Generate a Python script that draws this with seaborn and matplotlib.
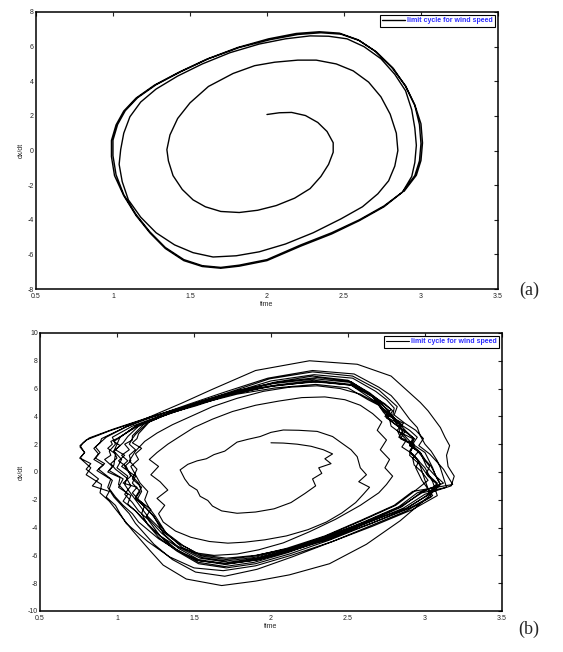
import pandas as pd
import matplotlib
matplotlib.use("Agg")
import matplotlib.pyplot as plt
import seaborn as sns

# ---------- shared axis ticks ----------
x_ticks = [0.5, 1.0, 1.5, 2.0, 2.5, 3.0, 3.5]
x_tick_labels = ["0.5", "1", "1.5", "2", "2.5", "3", "3.5"]
y_ticks_a = [-8, -6, -4, -2, 0, 2, 4, 6, 8]
y_ticks_b = [-10, -8, -6, -4, -2, 0, 2, 4, 6, 8, 10]
legend_label = "limit cycle for wind speed"

# ---------- (a) smooth spiral onto the limit cycle ----------
a_time = [
    2.00, 2.08, 2.16, 2.25, 2.33, 2.39, 2.43, 2.43, 2.40, 2.35,
    2.28, 2.18, 2.06, 1.94, 1.82, 1.70, 1.60, 1.52, 1.45, 1.39,
    1.36, 1.35, 1.37, 1.42, 1.50, 1.62, 1.78, 1.92, 2.05, 2.20,
    2.32, 2.45, 2.56, 2.66, 2.74, 2.80, 2.84, 2.85, 2.83, 2.79,
    2.72, 2.62, 2.48, 2.30, 2.12, 1.95, 1.80, 1.65, 1.52, 1.40,
    1.28, 1.18, 1.10, 1.06, 1.04, 1.05, 1.07, 1.11, 1.18, 1.28,
    1.42, 1.58, 1.76, 1.95, 2.12, 2.28, 2.40, 2.52, 2.63, 2.74,
    2.83, 2.90, 2.94, 2.96, 2.97, 2.96, 2.94, 2.88, 2.76, 2.60,
    2.42, 2.22, 2.00, 1.82, 1.70, 1.58, 1.46, 1.34, 1.24, 1.15,
    1.07, 1.02, 1.00, 1.00, 1.03, 1.08, 1.16, 1.28, 1.44, 1.62,
    1.82, 2.02, 2.20, 2.35, 2.48, 2.60, 2.71, 2.82, 2.90, 2.96,
    2.99, 3.00, 2.99, 2.96, 2.88, 2.76, 2.60, 2.42, 2.22, 2.00,
    1.82, 1.70, 1.58, 1.46, 1.34, 1.24, 1.15, 1.07, 1.01, 0.99,
    0.99, 1.02, 1.07, 1.15, 1.27, 1.43, 1.61, 1.81, 2.01, 2.19,
    2.34, 2.47, 2.59, 2.70, 2.81, 2.90, 2.96, 3.00, 3.01, 3.00,
    2.97, 2.89,
]
a_dxdt = [
    2.08, 2.18, 2.20, 2.02, 1.62, 1.10, 0.45, -0.10, -0.80, -1.50,
    -2.20, -2.75, -3.18, -3.45, -3.58, -3.52, -3.25, -2.85, -2.25, -1.45,
    -0.60, 0.05, 0.90, 1.85, 2.75, 3.70, 4.45, 4.90, 5.10, 5.22,
    5.22, 5.00, 4.60, 3.95, 3.10, 2.10, 1.00, 0.00, -0.90, -1.75,
    -2.50, -3.25, -3.95, -4.75, -5.40, -5.85, -6.08, -6.15, -5.90, -5.45,
    -4.75, -3.85, -2.85, -1.80, -0.80, 0.05, 1.00, 1.95, 2.80, 3.55,
    4.30, 5.00, 5.65, 6.15, 6.45, 6.62, 6.60, 6.45, 6.00, 5.30,
    4.40, 3.45, 2.35, 1.30, 0.30, -0.70, -1.50, -2.40, -3.20, -4.00,
    -4.75, -5.45, -6.30, -6.62, -6.75, -6.65, -6.30, -5.60, -4.70, -3.70,
    -2.55, -1.40, -0.30, 0.60, 1.50, 2.30, 3.05, 3.80, 4.55, 5.30,
    5.95, 6.40, 6.70, 6.80, 6.72, 6.35, 5.70, 4.75, 3.70, 2.60,
    1.50, 0.40, -0.60, -1.45, -2.40, -3.25, -4.05, -4.82, -5.52, -6.36,
    -6.68, -6.80, -6.70, -6.36, -5.66, -4.76, -3.76, -2.61, -1.45, -0.35,
    0.58, 1.48, 2.28, 3.03, 3.78, 4.53, 5.28, 5.95, 6.45, 6.76,
    6.86, 6.78, 6.40, 5.75, 4.80, 3.74, 2.64, 1.54, 0.44, -0.58,
    -1.43, -2.36,
]

# ---------- (b) noisy trajectory, loop by loop ----------
b_time_1 = [2.00, 2.08, 2.17, 2.26, 2.34, 2.40, 2.35, 2.39, 2.31, 2.33, 2.27, 2.29, 2.22, 2.13,
            2.02, 1.90, 1.78, 1.68, 1.62, 1.59, 1.54, 1.52, 1.47, 1.44, 1.41, 1.46, 1.52, 1.58,
            1.63, 1.70, 1.78, 1.85, 1.93, 2.00, 2.08, 2.18, 2.30, 2.40, 2.47, 2.52, 2.56, 2.58]
b_dxdt_1 = [2.10, 2.08, 2.00, 1.85, 1.60, 1.30, 0.95, 0.60, 0.30, -0.10, -0.50, -1.00, -1.55, -2.20,
            -2.65, -2.88, -2.97, -2.80, -2.45, -2.05, -1.75, -1.30, -0.95, -0.50, 0.15, 0.55, 0.80, 0.95,
            1.25, 1.50, 2.15, 2.35, 2.55, 2.85, 3.02, 3.00, 2.92, 2.55, 2.00, 1.60, 1.10, 0.30]

b_time_2 = [2.62, 2.57, 2.64, 2.60, 2.55, 2.46, 2.36, 2.24, 2.10, 1.96, 1.83, 1.72, 1.60, 1.48,
            1.38, 1.30, 1.27, 1.31, 1.26, 1.33, 1.28, 1.22, 1.27, 1.21, 1.26, 1.33, 1.40, 1.50,
            1.62, 1.75, 1.90, 2.05, 2.20, 2.35, 2.48, 2.58, 2.66, 2.72, 2.69, 2.75, 2.71, 2.77]
b_dxdt_2 = [-0.20, -0.70, -1.10, -1.60, -2.20, -2.95, -3.60, -4.15, -4.60, -4.88, -5.05, -5.12, -5.00, -4.70,
            -4.25, -3.60, -3.00, -2.40, -1.90, -1.30, -0.70, -0.20, 0.40, 0.90, 1.40, 2.00, 2.50, 3.20,
            3.80, 4.35, 4.80, 5.10, 5.35, 5.40, 5.20, 4.80, 4.20, 3.60, 3.00, 2.30, 1.60, 0.90]

b_time_3 = [2.74, 2.79, 2.75, 2.70, 2.58, 2.42, 2.25, 2.08, 1.92, 1.78, 1.63, 1.50, 1.38, 1.28,
            1.20, 1.16, 1.18, 1.12, 1.16, 1.10, 1.13, 1.08, 1.12, 1.18, 1.26, 1.36, 1.48, 1.62,
            1.78, 1.95, 2.12, 2.30, 2.45, 2.58, 2.68, 2.76, 2.83, 2.86, 2.92, 2.90, 2.97, 3.02, 3.08]
b_dxdt_3 = [0.30, -0.30, -0.90, -1.50, -2.40, -3.40, -4.30, -5.10, -5.60, -5.90, -6.00, -5.80, -5.30, -4.60,
            -3.80, -3.00, -2.40, -1.80, -1.10, -0.50, 0.20, 0.80, 1.50, 2.20, 2.80, 3.40, 4.00, 4.70,
            5.30, 5.80, 6.10, 6.20, 6.00, 5.60, 5.00, 4.30, 3.50, 2.70, 2.00, 1.20, 0.50, -0.30, -0.90]

b_time_4 = [3.03, 2.88, 2.61, 2.39, 2.12, 1.90, 1.70, 1.52, 1.37, 1.27,
            1.16, 1.12, 1.04, 1.07, 1.01, 1.02, 0.94, 0.97, 0.92, 0.96, 0.95, 0.99, 0.97,
            1.10, 1.27, 1.51, 1.73, 2.00, 2.28, 2.52, 2.67,
            2.74, 2.79, 2.76, 2.84, 2.88, 2.93, 2.90, 2.97, 3.01, 3.06, 3.12]
b_dxdt_4 = [-1.60, -2.60, -3.70, -4.80, -5.70, -6.35, -6.65, -6.35, -5.50, -4.50,
            -3.30, -2.80, -2.10, -1.60, -0.90, -0.40, 0.00, 0.40, 0.90, 1.20, 1.50, 2.00, 2.50,
            3.30, 4.00, 4.75, 5.55, 6.20, 6.60, 6.30, 5.40,
            4.90, 4.40, 3.90, 3.40, 2.90, 2.40, 1.90, 1.40, 0.40, -0.20, -0.80]

b_time_5 = [2.97, 2.85, 2.63, 2.37, 2.13, 1.91, 1.72, 1.54, 1.40, 1.29,
            1.19, 1.22, 1.14, 1.10, 1.13, 1.04, 1.09, 1.06, 1.01, 1.05, 0.99, 1.04, 1.07,
            1.15, 1.31, 1.52, 1.76, 2.02, 2.27, 2.50, 2.64,
            2.72, 2.78, 2.74, 2.80, 2.86, 2.83, 2.93, 2.90, 2.95, 3.00, 3.05]
b_dxdt_5 = [-1.50, -2.50, -3.60, -4.70, -5.60, -6.20, -6.50, -6.20, -5.40, -4.40,
            -3.20, -2.70, -2.00, -1.50, -1.10, -0.80, -0.30, 0.40, 0.80, 1.20, 1.60, 2.10, 2.55,
            3.40, 4.10, 4.90, 5.70, 6.45, 6.90, 6.60, 5.70,
            5.00, 4.50, 4.00, 3.50, 3.00, 2.50, 2.00, 1.50, 0.90, 0.30, -0.70]

b_time_6 = [3.08, 2.92, 2.66, 2.40, 2.13, 1.90, 1.69, 1.50, 1.34, 1.20,
            1.06, 1.02, 0.99, 0.93, 0.95, 0.84, 0.88, 0.80, 0.83, 0.76, 0.79, 0.76, 0.82,
            0.98, 1.20, 1.47, 1.72, 1.99, 2.27, 2.53, 2.70,
            2.76, 2.82, 2.80, 2.87, 2.94, 2.99, 2.96, 3.03, 3.08, 3.12, 3.18]
b_dxdt_6 = [-1.70, -2.70, -3.90, -5.00, -6.00, -6.75, -7.10, -6.90, -6.10, -5.00,
            -3.70, -3.00, -2.40, -1.80, -1.40, -1.00, -0.50, 0.20, 0.60, 1.00, 1.40, 1.90, 2.45,
            3.10, 3.90, 4.80, 5.70, 6.70, 7.20, 6.90, 5.90,
            5.30, 4.70, 4.10, 3.50, 3.00, 2.40, 1.90, 1.30, 0.70, 0.20, -0.90]

b_time_7 = [2.92, 2.80, 2.58, 2.35, 2.10, 1.89, 1.71, 1.55, 1.43, 1.31,
            1.23, 1.18, 1.12, 1.15, 1.10, 1.12, 1.03, 1.07, 1.03, 1.08, 1.05, 1.10, 1.10,
            1.18, 1.33, 1.55, 1.78, 2.03, 2.29, 2.50, 2.63,
            2.70, 2.73, 2.77, 2.78, 2.84, 2.88, 2.85, 2.92, 2.96, 2.94, 2.98]
b_dxdt_7 = [-1.40, -2.40, -3.50, -4.60, -5.50, -6.05, -6.30, -6.05, -5.30, -4.30,
            -3.10, -2.50, -1.90, -1.40, -0.80, -0.30, 0.40, 0.80, 1.20, 1.60, 2.00, 2.30, 2.60,
            3.50, 4.20, 4.95, 5.60, 6.05, 6.30, 6.05, 5.20,
            4.80, 4.30, 3.80, 3.30, 2.80, 2.30, 1.80, 1.30, 0.80, 0.30, -0.60]

b_time_8 = [3.05, 2.90, 2.65, 2.40, 2.15, 1.92, 1.72, 1.54, 1.40, 1.27,
            1.14, 1.10, 1.04, 0.99, 0.95, 0.97, 0.87, 0.91, 0.85, 0.88, 0.85, 0.89, 0.90,
            1.05, 1.22, 1.42, 1.62, 1.90, 2.25, 2.56, 2.78,
            2.90, 2.97, 3.02, 3.06, 3.10, 3.13, 3.16, 3.14, 3.15, 3.19, 3.17]
b_dxdt_8 = [-1.70, -2.60, -3.70, -4.70, -5.60, -6.30, -6.60, -6.40, -5.70, -4.80,
            -3.60, -3.00, -2.40, -1.80, -1.20, -0.60, 0.10, 0.50, 0.90, 1.30, 1.70, 2.10, 2.40,
            3.20, 4.00, 4.95, 5.95, 7.30, 8.00, 7.75, 6.90,
            5.70, 5.00, 4.40, 3.80, 3.20, 2.50, 1.90, 1.20, 0.40, -0.30, -1.00]

b_time_9 = [3.00, 2.86, 2.62, 2.36, 2.11, 1.89, 1.70, 1.53, 1.39, 1.28,
            1.20, 1.14, 1.10, 1.05, 1.09, 1.06, 0.99, 0.96, 1.00, 0.98, 1.02, 0.98, 1.02,
            1.13, 1.30, 1.50, 1.75, 2.01, 2.29, 2.51, 2.65,
            2.71, 2.77, 2.75, 2.81, 2.87, 2.93, 2.91, 2.96, 3.03, 3.01, 3.08]
b_dxdt_9 = [-1.60, -2.60, -3.70, -4.80, -5.80, -6.50, -6.80, -6.50, -5.60, -4.60,
            -3.40, -2.80, -2.20, -1.60, -1.00, -0.40, 0.20, 0.60, 1.00, 1.50, 1.90, 2.20, 2.50,
            3.35, 4.05, 4.80, 5.65, 6.35, 6.70, 6.45, 5.50,
            4.90, 4.40, 3.90, 3.40, 2.90, 2.40, 1.90, 1.40, 0.40, -0.10, -0.80]

b_time_10 = [3.01, 2.87, 2.63, 2.38, 2.12, 1.90, 1.71, 1.53, 1.39, 1.27,
             1.18, 1.13, 1.07, 1.09, 1.01, 1.04, 0.95, 0.98, 0.99, 0.94, 0.97, 0.96, 1.00,
             1.12, 1.28, 1.49, 1.73, 2.00, 2.28, 2.53, 2.68,
             2.75, 2.80, 2.79, 2.83, 2.90, 2.95, 2.92, 3.00, 3.05, 3.07, 3.10]
b_dxdt_10 = [-1.70, -2.70, -3.80, -4.90, -5.90, -6.60, -6.90, -6.60, -5.70, -4.70,
             -3.50, -2.90, -2.30, -1.70, -1.10, -0.50, 0.10, 0.50, 1.30, 1.70, 2.00, 2.20, 2.40,
             3.20, 3.95, 4.75, 5.65, 6.55, 7.00, 6.75, 5.80,
             5.20, 4.60, 4.00, 3.50, 3.00, 2.50, 2.00, 1.40, 0.30, -0.30, -0.90]

b_time_11 = [3.02, 2.84, 2.62, 2.38, 2.12, 1.90, 1.68, 1.45, 1.30, 1.21,
             1.10, 1.05, 1.00, 0.95, 0.89, 0.90, 0.80, 0.83, 0.76, 0.79, 0.76, 0.78, 0.80,
             0.95, 1.18, 1.45, 1.72, 2.00, 2.27, 2.52, 2.66,
             2.72, 2.76, 2.80, 2.85, 2.83, 2.92, 2.90, 2.97, 3.00, 3.04, 3.10]
b_dxdt_11 = [-1.80, -3.50, -5.20, -6.60, -7.40, -7.85, -8.17, -7.70, -6.70, -5.60,
             -4.20, -3.50, -2.80, -2.10, -1.50, -0.90, -0.20, 0.30, 1.00, 1.40, 1.80, 2.10, 2.30,
             2.95, 3.80, 4.70, 5.55, 6.15, 6.50, 6.25, 5.40,
             4.90, 4.40, 3.90, 3.40, 2.90, 2.40, 1.90, 1.40, 0.90, 0.40, -0.90]

b_time_12 = [2.95, 2.83, 2.60, 2.36, 2.10, 1.88, 1.70, 1.53, 1.40, 1.30,
             1.24, 1.19, 1.13, 1.16, 1.14, 1.09, 1.05, 1.09, 1.08, 1.12, 1.08, 1.10, 1.12,
             1.20, 1.34, 1.54, 1.78, 2.04, 2.30, 2.52, 2.65,
             2.72, 2.77, 2.86, 2.82, 2.84, 2.91, 2.96, 2.92, 2.93, 2.98, 3.02]
b_dxdt_12 = [-1.50, -2.50, -3.60, -4.70, -5.65, -6.30, -6.60, -6.30, -5.50, -4.40,
             -3.20, -2.60, -2.00, -1.40, -0.80, -0.20, 0.40, 0.80, 1.20, 1.60, 2.00, 2.40, 2.70,
             3.55, 4.25, 5.05, 5.85, 6.45, 6.80, 6.50, 5.55,
             4.50, 4.00, 3.50, 3.00, 2.50, 2.00, 1.50, 1.00, 0.50, 0.00, -0.60]

b_time_13 = [2.93, 2.81, 2.59, 2.36, 2.11, 1.89, 1.71, 1.55, 1.42, 1.32,
             1.25, 1.21, 1.18, 1.20, 1.15, 1.12, 1.09, 1.14, 1.12, 1.16, 1.10, 1.13, 1.14,
             1.21, 1.36, 1.57, 1.80, 2.05, 2.31, 2.52, 2.64,
             2.70, 2.74, 2.79, 2.82, 2.87, 2.84, 2.93, 2.90, 2.95, 2.97, 3.00]
b_dxdt_13 = [-1.40, -2.40, -3.50, -4.60, -5.55, -6.15, -6.40, -6.15, -5.40, -4.40,
             -3.20, -2.60, -2.00, -1.40, -0.80, -0.20, 0.40, 0.90, 1.30, 1.70, 2.10, 2.40, 2.75,
             3.60, 4.30, 5.10, 5.80, 6.25, 6.50, 6.25, 5.35,
             4.90, 4.40, 3.90, 3.40, 2.90, 2.40, 1.90, 1.40, 0.90, 0.40, -0.60]

b_time_14 = [3.04, 2.88, 2.64, 2.40, 2.14, 1.91, 1.70, 1.51, 1.36, 1.24,
             1.12, 1.08, 1.03, 0.98, 0.94, 0.96, 0.88, 0.92, 0.86, 0.89, 0.86, 0.90, 0.93,
             1.06, 1.24, 1.46, 1.70, 1.98, 2.27, 2.54, 2.70,
             2.78, 2.82, 2.86, 2.90, 2.95, 2.97, 3.00, 3.04, 3.08, 3.10, 3.14]
b_dxdt_14 = [-1.80, -2.80, -3.90, -5.00, -6.10, -7.00, -7.50, -7.20, -6.30, -5.20,
             -3.70, -3.00, -2.40, -1.80, -1.10, -0.50, 0.20, 0.60, 1.00, 1.40, 1.80, 2.20, 2.50,
             3.25, 4.00, 4.85, 5.75, 6.75, 7.30, 7.05, 6.10,
             5.50, 5.00, 4.40, 3.80, 3.20, 2.60, 2.00, 1.50, 0.80, 0.30, -1.10]

b_time_15 = [2.98, 2.84, 2.61, 2.37, 2.12, 1.90, 1.71, 1.54, 1.41, 1.30,
             1.20, 1.16, 1.12, 1.08, 1.05, 1.07, 1.00, 1.03, 0.98,
             1.02, 1.12, 1.28, 1.50]
b_dxdt_15 = [-1.50, -2.50, -3.60, -4.60, -5.50, -6.00, -6.20, -5.95, -5.20, -4.30,
             -3.20, -2.60, -2.00, -1.40, -0.90, -0.30, 0.30, 0.90, 1.50,
             2.50, 3.30, 4.00, 4.80]

b_time = (b_time_1 + b_time_2 + b_time_3 + b_time_4 + b_time_5 + b_time_6 + b_time_7 + b_time_8
          + b_time_9 + b_time_10 + b_time_11 + b_time_12 + b_time_13 + b_time_14 + b_time_15)
b_dxdt = (b_dxdt_1 + b_dxdt_2 + b_dxdt_3 + b_dxdt_4 + b_dxdt_5 + b_dxdt_6 + b_dxdt_7 + b_dxdt_8
          + b_dxdt_9 + b_dxdt_10 + b_dxdt_11 + b_dxdt_12 + b_dxdt_13 + b_dxdt_14 + b_dxdt_15)

sns.set_style("white")
plt.rcParams['font.family'] = ['Liberation Sans', 'DejaVu Sans']

fig = plt.figure(figsize=(5.63, 6.52), dpi=100)
ax_a = fig.add_axes([0.0639, 0.5567, 0.8206, 0.4249])
ax_b = fig.add_axes([0.0710, 0.0629, 0.8206, 0.4264])


def draw_panel(ax, t, v, y_ticks, lw):
    df = pd.DataFrame({"time": t, "dxdt": v})
    sns.lineplot(data=df, x="time", y="dxdt", sort=False, estimator=None,
                 color="black", linewidth=lw, ax=ax, label=legend_label)
    ax.set_xlim(x_ticks[0], x_ticks[-1])
    ax.set_ylim(y_ticks[0], y_ticks[-1])
    ax.set_xticks(x_ticks, x_tick_labels)
    ax.set_yticks(y_ticks, [str(y) for y in y_ticks])
    ax.tick_params(direction="in", top=True, right=True, length=3, width=0.8,
                   labelsize=5, pad=1.5, colors="#222222")
    ax.tick_params(axis="x", pad=2.8)
    for s in ax.spines.values():
        s.set_linewidth(1.1)
        s.set_color("black")
    ax.set_xlabel("time", fontsize=5, labelpad=1)
    ax.set_ylabel("dx/dt", fontsize=5, labelpad=2)
    leg = ax.legend(loc="upper right", fontsize=5, frameon=True, fancybox=False,
                    edgecolor="black", framealpha=1, borderpad=0.35, handlelength=3.3,
                    handletextpad=0.3, borderaxespad=0.4)
    leg.get_frame().set_linewidth(0.8)
    for txt in leg.get_texts():
        txt.set_color("#2b2bff")
        txt.set_fontweight("bold")


draw_panel(ax_a, a_time, a_dxdt, y_ticks_a, 1.0)
draw_panel(ax_b, b_time, b_dxdt, y_ticks_b, 0.8)

fig.text(0.94, 0.555, "(a)", fontsize=13, family="Liberation Serif", ha="center", va="center")
fig.text(0.94, 0.034, "(b)", fontsize=13, family="Liberation Serif", ha="center", va="center")

fig.savefig("out.png", dpi=100)
